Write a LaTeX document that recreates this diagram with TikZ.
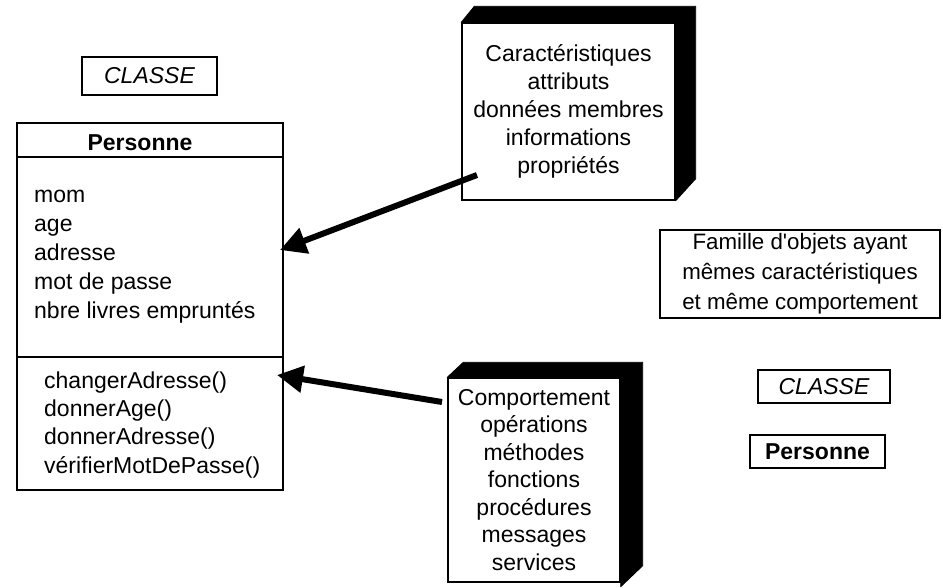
\documentclass[tikz,border=0pt]{standalone}
\usepackage{fontspec}
\setmainfont{Liberation Sans}
\usetikzlibrary{arrows.meta,calc}

\tikzset{
  thinbox/.style={draw, line width=1.4pt, inner sep=0pt, align=center},
  txt/.style={inner sep=0pt, font=\fontsize{23}{29}\selectfont},
  bigarrow/.style={line width=6pt, -{Triangle[length=26pt,width=26pt]}},
  shade3d/.style={fill=black, draw=black, line width=0.8pt, line join=round}
}

\begin{document}
\begin{tikzpicture}[x=1pt, y=-1pt]
\useasboundingbox (0,0) rectangle (943,587);

% --- stereotype label above the class
\node[thinbox, minimum width=135pt, minimum height=38pt,
      font=\fontsize{23}{28}\selectfont\itshape] (stereoA) at (149.5,76) {CLASSE};

% --- the class Personne with its two compartments
\node[draw, line width=1.6pt, minimum width=266pt, minimum height=367pt,
      inner sep=0pt] (cls) at (150,306.5) {};
\draw[line width=1.6pt] (cls.north west) ++(0,35) coordinate (hdr)
  -- (hdr -| cls.east);
\draw[line width=1.6pt] (cls.north west) ++(0,235) coordinate (div)
  -- (div -| cls.east);
\node[txt, anchor=base, font=\fontsize{23}{29}\selectfont\bfseries] (clsname)
  at (140,150) {Personne};

\foreach \t [count=\i from 0] in {mom, age, adresse, mot de passe,
                                  nbre livres empruntés}
  \node[txt, anchor=base west] (attr\i) at (34,202+29*\i) {\t};

\foreach \t [count=\i from 0] in {changerAdresse(), donnerAge(),
                                  donnerAdresse(), vérifierMotDePasse()}
  \node[txt, anchor=base west] (meth\i) at (44,388+28.4*\i) {\t};

% --- box describing the attributes (with a dark 3D edge)
\node[thinbox, minimum width=213pt, minimum height=177pt,
      font=\fontsize{23}{27.8}\selectfont] (feat) at (568.5,111.5)
  {Caractéristiques\\attributs\\données membres\\informations\\propriétés};
\fill[shade3d] (feat.north west) -- ++(13,-16)
  -- ($(feat.north east)+(20,-16)$) -- ($(feat.south east)+(20,-22)$)
  -- (feat.south east) -- (feat.north east) -- cycle;

% --- box describing the operations (with a dark 3D edge)
\node[thinbox, minimum width=172pt, minimum height=204pt,
      font=\fontsize{23}{27.5}\selectfont] (behav) at (534,480)
  {Comportement\\opérations\\méthodes\\fonctions\\procédures\\messages\\services};
\fill[shade3d] (behav.north west) -- ++(16,-15)
  -- ($(behav.north east)+(22,-15)$) -- ($(behav.south east)+(22,-17)$)
  -- ($(behav.south east)+(0,4)$) -- (behav.north east) -- cycle;

% --- arrows pointing at the compartments
\coordinate (featTail) at (477,175);
\coordinate (attrTip) at (280,250);
\coordinate (behavTail) at (442,402);
\coordinate (methTip) at (277,375);
\draw[bigarrow] (featTail) -- (attrTip);
\draw[bigarrow] (behavTail) -- (methTip);

% --- definition and compact notation on the right
\node[thinbox, minimum width=280pt, minimum height=88pt,
      font=\fontsize{22.3}{30}\selectfont] (defn) at (800,274)
  {Famille d\textquotesingle objets ayant\\mêmes caractéristiques\\et même comportement};
\node[thinbox, minimum width=132pt, minimum height=33pt,
      font=\fontsize{23}{28}\selectfont\itshape] (stereoB) at (824,386.5) {CLASSE};
\node[thinbox, minimum width=135pt, minimum height=33pt,
      font=\fontsize{23}{28}\selectfont\bfseries] (clsB) at (817.5,451.5) {Personne};
\end{tikzpicture}
\end{document}
